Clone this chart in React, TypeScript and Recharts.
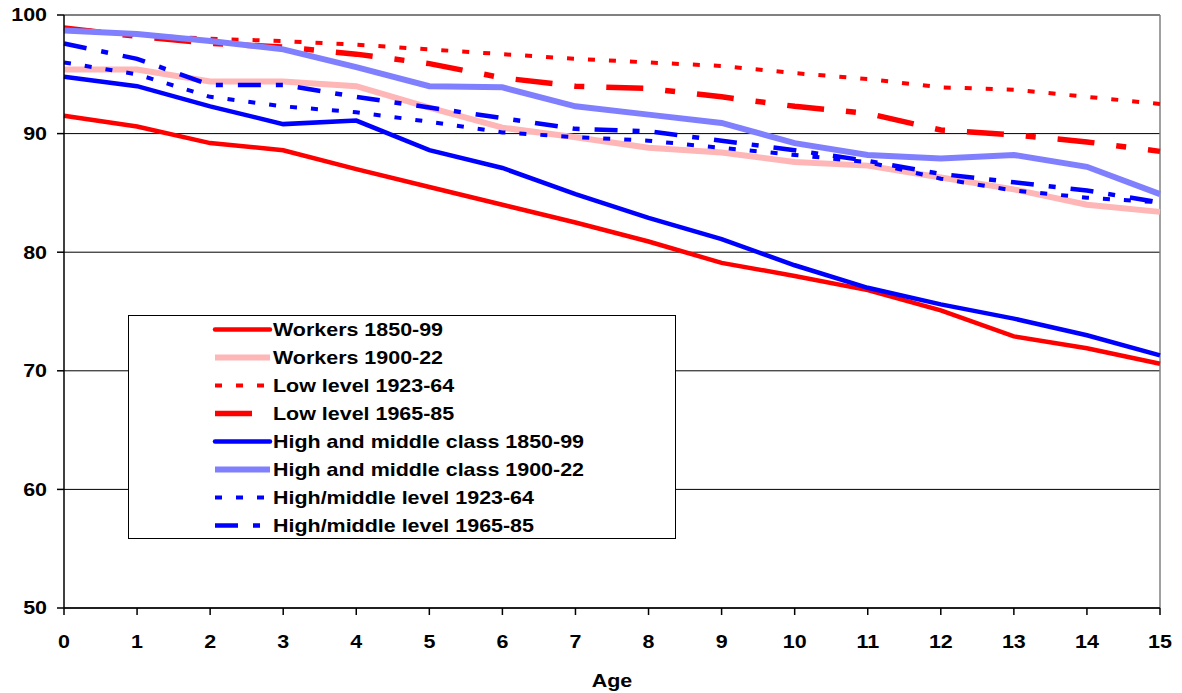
import React from 'react';
import {
  LineChart,
  Line,
  XAxis,
  YAxis,
  CartesianGrid,
  ReferenceLine,
  Legend,
  Label,
} from 'recharts';

// Age (years) on the horizontal axis
const ages = [0, 1, 2, 3, 4, 5, 6, 7, 8, 9, 10, 11, 12, 13, 14, 15];

// Survival (per 100) by age for each cohort
const workers1850 = [91.5, 90.6, 89.2, 88.6, 87.0, 85.5, 84.0, 82.5, 80.9, 79.1, 78.0, 76.8, 75.1, 72.9, 71.9, 70.6];
const workers1900 = [95.4, 95.4, 94.4, 94.4, 94.0, 92.2, 90.5, 89.7, 88.8, 88.4, 87.6, 87.3, 86.3, 85.3, 84.0, 83.4];
const low1923 = [98.9, 98.3, 98.0, 97.8, 97.5, 97.1, 96.7, 96.3, 96.0, 95.7, 95.1, 94.6, 93.9, 93.7, 93.1, 92.5];
const low1965 = [98.9, 98.2, 97.6, 97.3, 96.7, 95.9, 94.7, 94.0, 93.8, 93.1, 92.3, 91.7, 90.3, 89.9, 89.3, 88.5];
const hm1850 = [94.8, 94.0, 92.3, 90.8, 91.1, 88.6, 87.1, 84.9, 82.9, 81.1, 78.9, 77.0, 75.6, 74.4, 73.0, 71.3];
const hm1900 = [98.7, 98.4, 97.8, 97.1, 95.6, 94.0, 93.9, 92.3, 91.6, 90.9, 89.2, 88.2, 87.9, 88.2, 87.2, 84.9];
const hm1923 = [96.0, 95.0, 93.1, 92.3, 91.8, 91.0, 90.1, 89.7, 89.4, 88.8, 88.2, 87.6, 86.2, 85.2, 84.6, 84.2];
const hm1965 = [97.6, 96.3, 94.1, 94.1, 93.1, 92.2, 91.3, 90.4, 90.2, 89.4, 88.6, 87.7, 86.6, 85.9, 85.2, 84.2];

const yTicks = [50, 60, 70, 80, 90, 100];

const FONT = '"Liberation Sans", Arial, sans-serif';
const STRETCH = 1.16;

const series = [
  { key: 'workers1850', name: 'Workers 1850-99', values: workers1850, color: '#ff0000', width: 4.5, dash: undefined, cap: 'round' },
  { key: 'workers1900', name: 'Workers 1900-22', values: workers1900, color: '#ffb6b6', width: 6, dash: undefined, cap: 'butt' },
  { key: 'low1923', name: 'Low level 1923-64', values: low1923, color: '#ff0000', width: 4, dash: '7 14', cap: 'butt' },
  { key: 'low1965', name: 'Low level 1965-85', values: low1965, color: '#ff0000', width: 5.5, dash: '37 22 10 22', cap: 'butt' },
  { key: 'hm1850', name: 'High and middle class 1850-99', values: hm1850, color: '#0000ff', width: 4.5, dash: undefined, cap: 'round' },
  { key: 'hm1900', name: 'High and middle class 1900-22', values: hm1900, color: '#8080ff', width: 6, dash: undefined, cap: 'butt' },
  { key: 'hm1923', name: 'High/middle level 1923-64', values: hm1923, color: '#0000ff', width: 4, dash: '7 14', cap: 'butt' },
  { key: 'hm1965', name: 'High/middle level 1965-85', values: hm1965, color: '#0000ff', width: 4.5, dash: '23 15 7 15', cap: 'butt' },
];

const data = ages.map((age, i) => {
  const row: Record<string, number> = { age };
  series.forEach((s) => {
    row[s.key] = s.values[i];
  });
  return row;
});

const textStyle = {
  fontFamily: FONT,
  fontWeight: 700,
  fontSize: 18.5,
  fill: '#000',
};

const YTick = (props: any) => {
  const { x, y, payload } = props;
  return (
    <g transform={`translate(${x - 8},${y})`}>
      <text transform={`scale(${STRETCH},1)`} textAnchor="end" dy="0.35em" style={textStyle}>
        {payload.value}
      </text>
    </g>
  );
};

const XTick = (props: any) => {
  const { x, y, payload } = props;
  return (
    <g transform={`translate(${x},${y + 31})`}>
      <text transform={`scale(${STRETCH},1)`} textAnchor="middle" style={textStyle}>
        {payload.value}
      </text>
    </g>
  );
};

const AgeLabel = (props: any) => {
  const { viewBox } = props;
  const cx = viewBox.x + viewBox.width / 2;
  return (
    <g transform={`translate(${cx},${viewBox.y + 79})`}>
      <text transform={`scale(${STRETCH},1)`} textAnchor="middle" style={textStyle}>
        Age
      </text>
    </g>
  );
};

const LEGEND_W = 548;
const LEGEND_H = 224;

const LegendBox = () => (
  <svg width={LEGEND_W} height={LEGEND_H} style={{ display: 'block' }}>
    <rect x={0.5} y={0.5} width={LEGEND_W - 1} height={LEGEND_H - 1} fill="#fff" stroke="#000" strokeWidth={1} />
    {series.map((s, i) => {
      const cy = 14.5 + i * 28;
      return (
        <g key={s.key}>
          <line
            x1={87}
            x2={142}
            y1={cy}
            y2={cy}
            stroke={s.color}
            strokeWidth={s.width}
            strokeDasharray={s.dash}
            strokeLinecap={s.cap as any}
          />
          <g transform={`translate(145,${cy + 6.6})`}>
            <text transform={`scale(${STRETCH},1)`} style={textStyle}>
              {s.name}
            </text>
          </g>
        </g>
      );
    })}
  </svg>
);

export default function App() {
  return (
    <div style={{ position: 'absolute', left: 0, top: 0, background: '#fff' }}>
      <LineChart
        width={1182}
        height={693}
        data={data}
        margin={{ top: 15, right: 22, bottom: 25, left: 4 }}
      >
        <CartesianGrid vertical={false} stroke="#000" strokeWidth={1} />
        <XAxis
          dataKey="age"
          type="number"
          domain={[0, 15]}
          ticks={ages}
          interval={0}
          height={60}
          tickSize={7}
          axisLine={{ stroke: '#000', strokeWidth: 1.5 }}
          tickLine={{ stroke: '#000', strokeWidth: 1.5 }}
          tick={<XTick />}
        >
          <Label content={<AgeLabel />} />
        </XAxis>
        <YAxis
          type="number"
          domain={[50, 100]}
          ticks={yTicks}
          interval={0}
          width={60}
          tickSize={7}
          axisLine={{ stroke: '#000', strokeWidth: 1.5 }}
          tickLine={{ stroke: '#000', strokeWidth: 1.5 }}
          tick={<YTick />}
        />
        <ReferenceLine y={100} stroke="#808080" strokeWidth={1.5} />
        <ReferenceLine x={15} stroke="#808080" strokeWidth={1.5} />
        {series.map((s) => (
          <Line
            key={s.key}
            dataKey={s.key}
            name={s.name}
            type="linear"
            stroke={s.color}
            strokeWidth={s.width}
            strokeDasharray={s.dash}
            dot={false}
            activeDot={false}
            isAnimationActive={false}
          />
        ))}
        <Legend
          layout="vertical"
          align="center"
          verticalAlign="middle"
          content={<LegendBox />}
          wrapperStyle={{ left: 128, top: 315, width: LEGEND_W, height: LEGEND_H }}
        />
      </LineChart>
    </div>
  );
}
